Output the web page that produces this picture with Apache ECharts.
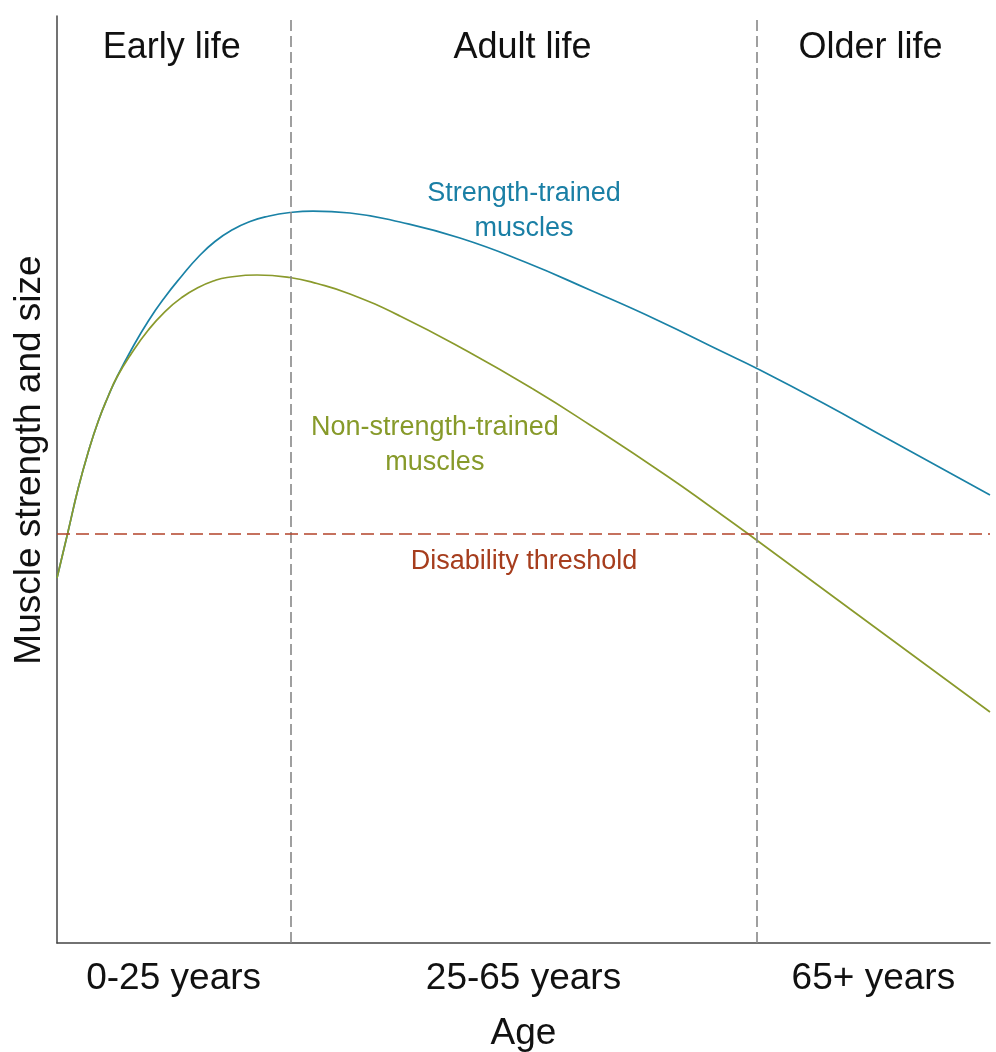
<!DOCTYPE html>
<html>
<head>
<meta charset="utf-8">
<script src="https://cdn.jsdelivr.net/npm/echarts@6/dist/echarts.min.js"></script>
<style>
html,body{margin:0;padding:0;background:#fff;}
#c{width:996px;height:1052px;}
</style>
</head>
<body>
<div id="c"></div>
<script>
// Abstract age scale 0..100 (0-25 boundary at 25, 25-65 / 65+ boundary at 75)
var trainedX = [0, 1.15, 2.28, 3.35, 4.43, 5.50, 6.40, 8.01, 9.79, 11.58, 13.37, 15.14, 16.93, 18.86, 20.69, 22.51, 24.97, 27.44, 31.40, 36.76, 43.19, 50.16, 57.13, 64.31, 71.38, 74.92, 82.10, 89.28, 100];
var trainedY = [39.37, 44.23, 49.08, 52.97, 56.31, 59.01, 61.00, 64.08, 67.10, 69.69, 71.95, 74.00, 75.67, 76.97, 77.83, 78.37, 78.80, 78.96, 78.75, 77.78, 76.05, 73.46, 70.44, 67.21, 63.75, 62.03, 58.25, 54.26, 48.33];
var untrainedX = [0, 1.15, 2.28, 3.35, 4.43, 5.50, 6.40, 8.01, 9.79, 11.58, 13.37, 15.14, 16.93, 18.22, 21.44, 24.97, 27.87, 31.40, 36.76, 43.94, 51.02, 57.13, 65.38, 70.31, 73.95, 85.0, 100];
var untrainedY = [39.37, 44.23, 49.08, 52.97, 56.31, 59.01, 61.00, 63.65, 66.13, 68.12, 69.63, 70.71, 71.47, 71.79, 72.06, 71.79, 71.14, 70.01, 67.64, 63.86, 59.76, 55.88, 50.38, 46.87, 44.23, 36.03, 24.92];
var thresholdValue = 44.2;
var phaseBoundaries = [25, 75];
var phaseNames = ['Early life', 'Adult life', 'Older life'];
var phaseNameX = [12.3, 49.9, 87.2];
var phaseNameY = 96.5;
var tickValues = [12.5, 50, 87.5];
var tickLabels = ['0-25 years', '25-65 years', '65+ years'];
var annotationTexts = ['Strength-trained\nmuscles', 'Non-strength-trained\nmuscles', 'Disability threshold'];
var annotationX = [50.05, 40.5, 50.05];
var annotationY = [79.0, 53.7, 41.2];

var BLUE = '#1a82a6';
var GREEN = '#8a9a2c';
var RED = '#b3432a';
var FONT = '"Liberation Sans", Arial, sans-serif';

function zip(xs, ys){ return xs.map(function(x,i){ return [x, ys[i]]; }); }

var annotColors = ['#1a7fa5', '#879a2a', '#a63d1d'];
var annotData = annotationTexts.map(function(t,i){
  return {value:[annotationX[i], annotationY[i]], name:t,
    label:{color: annotColors[i]}};
});
var phaseData = phaseNames.map(function(t,i){
  return {value:[phaseNameX[i], phaseNameY], name:t};
});

var chart = echarts.init(document.getElementById('c'), null, {renderer:'canvas'});
chart.setOption({
  animation:false,
  backgroundColor:'#fff',
  grid:{left:57, right:6, top:16, bottom:109, containLabel:false, outerBoundsMode:'none'},
  xAxis:{
    type:'value', min:0, max:100, interval:12.5,
    axisLine:{show:true, onZero:false, lineStyle:{color:'#444', width:1.5}},
    axisTick:{show:false},
    splitLine:{show:false},
    axisLabel:{
      show:true, margin:17, fontSize:37, color:'#111', fontFamily:FONT,
      showMinLabel:true, showMaxLabel:true, hideOverlap:false,
      formatter:function(v){
        var i = tickValues.indexOf(v);
        return i >= 0 ? tickLabels[i] : '';
      }
    },
    name:'Age', nameLocation:'middle', nameGap:72,
    nameTextStyle:{fontSize:37, color:'#111', fontFamily:FONT}
  },
  yAxis:{
    type:'value', min:0, max:100,
    axisLine:{show:true, lineStyle:{color:'#444', width:1.5}},
    axisTick:{show:false},
    axisLabel:{show:false},
    splitLine:{show:false}
  },
  graphic:[{
    type:'text', x:30, y:460, rotation:Math.PI/2,
    style:{text:'Muscle strength and size', fontSize:37, fontFamily:FONT, fill:'#111',
      align:'center', verticalAlign:'middle'}
  }],
  series:[
    {
      name:'Strength-trained muscles', type:'line', data:zip(trainedX, trainedY),
      smooth:0.5, showSymbol:false, symbol:'none',
      lineStyle:{color:BLUE, width:1.7}, z:3,
      markLine:{
        silent:true, symbol:['none','none'], label:{show:false},
        data:[
          {xAxis:phaseBoundaries[0], lineStyle:{color:'#888', type:[11,5], width:1.6}},
          {xAxis:phaseBoundaries[1], lineStyle:{color:'#888', type:[11,5], width:1.6}},
          {yAxis:thresholdValue, lineStyle:{color:RED, type:[13,6], width:1.6}}
        ]
      }
    },
    {
      name:'Non-strength-trained muscles', type:'line', data:zip(untrainedX, untrainedY),
      smooth:0.5, showSymbol:false, symbol:'none',
      lineStyle:{color:GREEN, width:1.7}, z:4
    },
    {
      type:'scatter', data:annotData, symbolSize:0, silent:true,
      itemStyle:{opacity:1},
      label:{show:true, position:'inside', formatter:'{b}', fontSize:27, lineHeight:35,
        fontFamily:FONT, align:'center', verticalAlign:'middle', opacity:1}
    },
    {
      type:'scatter', data:phaseData, symbolSize:0, silent:true,
      itemStyle:{opacity:1},
      label:{show:true, position:'inside', formatter:'{b}', fontSize:36, color:'#111',
        fontFamily:FONT, align:'center', verticalAlign:'middle', opacity:1}
    }
  ]
});
</script>
</body>
</html>
